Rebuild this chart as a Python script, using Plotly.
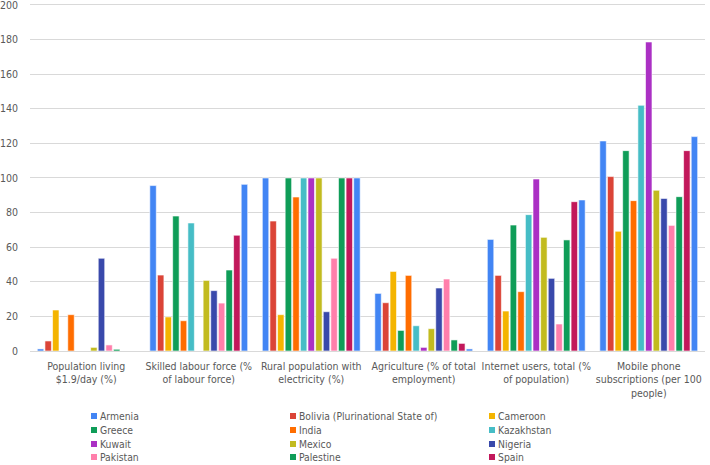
import plotly.graph_objects as go

categories = [
    "Population living<br>$1.9/day (%)",
    "Skilled labour force (%<br>of labour force)",
    "Rural population with<br>electricity (%)",
    "Agriculture (% of total<br>employment)",
    "Internet users, total (%<br>of population)",
    "Mobile phone<br>subscriptions (per 100<br>people)",
]

armenia    = [1.2, 95.6, 100, 33.3, 64.5, 121.4]
bolivia    = [5.8, 43.9, 75.1, 27.9, 43.7, 100.8]
cameroon   = [23.7, 19.7, 21.0, 46.0, 23.1, 69.2]
greece     = [0, 78.0, 100, 11.9, 72.8, 115.8]
india      = [21.0, 17.5, 89.0, 43.7, 34.3, 86.9]
kazakhstan = [0, 74.0, 100, 14.6, 78.8, 142.0]
kuwait     = [0, 0, 100, 2.1, 99.4, 178.6]
mexico     = [2.1, 40.8, 100, 12.9, 65.7, 92.9]
nigeria    = [53.6, 34.9, 22.7, 36.4, 42.0, 88.2]
pakistan   = [3.5, 27.7, 53.6, 41.6, 15.6, 72.6]
palestine  = [1.0, 46.8, 100, 6.4, 64.2, 89.2]
spain      = [0, 66.9, 100, 4.4, 86.3, 115.8]
extra      = [0, 96.3, 100, 1.2, 87.3, 123.9]

series = [
    ("Armenia", armenia, "#4285F4", True),
    ("Bolivia (Plurinational State of)", bolivia, "#DB4437", True),
    ("Cameroon", cameroon, "#F4B400", True),
    ("Greece", greece, "#0F9D58", True),
    ("India", india, "#FF6D00", True),
    ("Kazakhstan", kazakhstan, "#46BDC6", True),
    ("Kuwait", kuwait, "#AB30C4", True),
    ("Mexico", mexico, "#C2BB1F", True),
    ("Nigeria", nigeria, "#3949AB", True),
    ("Pakistan", pakistan, "#FF7FAB", True),
    ("Palestine", palestine, "#0F9D58", True),
    ("Spain", spain, "#C2185B", True),
    ("", extra, "#4285F4", False),
]

W, H = 710, 465
ML, MR, MT, MB = 30, 5, 2, 114
PW, PH = W - ML - MR, H - MT - MB
YMAX = 201.7

font = "Liberation Sans Narrow, DejaVu Sans Condensed, Lato, sans-serif"
txt = "#595959"

fig = go.Figure()
for name, vals, color, show in series:
    fig.add_trace(go.Bar(
        x=categories, y=vals, name=name, showlegend=False,
        marker=dict(color=color, line=dict(color="white", width=0.6)),
    ))

# compact legend (3 columns, row-wise)
col_x = [94, 293, 492]
row_y = [416, 430, 444, 457]
shapes, annos = [], []
legend_items = [s for s in series if s[3]]
for i, (name, vals, color, show) in enumerate(legend_items):
    cx = col_x[i % 3]
    cy = row_y[i // 3]
    shapes.append(dict(type="rect", xref="paper", yref="paper",
                       x0=(cx - 3 - ML) / PW, x1=(cx + 3 - ML) / PW,
                       y0=(H - MB - (cy + 3)) / PH, y1=(H - MB - (cy - 3)) / PH,
                       fillcolor=color, line=dict(width=0)))
    annos.append(dict(xref="paper", yref="paper", x=(cx + 4 - ML) / PW,
                      y=(H - MB - cy) / PH, text=name, showarrow=False,
                      xanchor="left", yanchor="middle",
                      font=dict(family=font, size=10.3, color=txt)))

fig.update_layout(
    width=W, height=H,
    margin=dict(l=ML, r=MR, t=MT, b=MB),
    paper_bgcolor="white", plot_bgcolor="white",
    barmode="group", bargap=0.12, bargroupgap=0.15,
    showlegend=False,
    font=dict(family=font, size=10.5, color=txt),
    yaxis=dict(range=[0, YMAX], tickvals=list(range(0, 201, 20)),
               showgrid=True, gridcolor="#D9D9D9", gridwidth=1,
               zeroline=False, tickfont=dict(size=10.5, color=txt),
               ticks="", ticklabelstandoff=11, automargin=False,
               ticklabeloverflow="allow"),
    xaxis=dict(showline=True, linecolor="#D9D9D9", linewidth=1, ticks="",
               tickangle=0, automargin=False, ticklabelstandoff=5,
               tickfont=dict(size=10.5, color=txt)),
    shapes=shapes, annotations=annos,
)

fig.write_html("out.html", config={"displayModeBar": False},
               post_script="document.body.style.margin='0';document.body.style.padding='0';")
